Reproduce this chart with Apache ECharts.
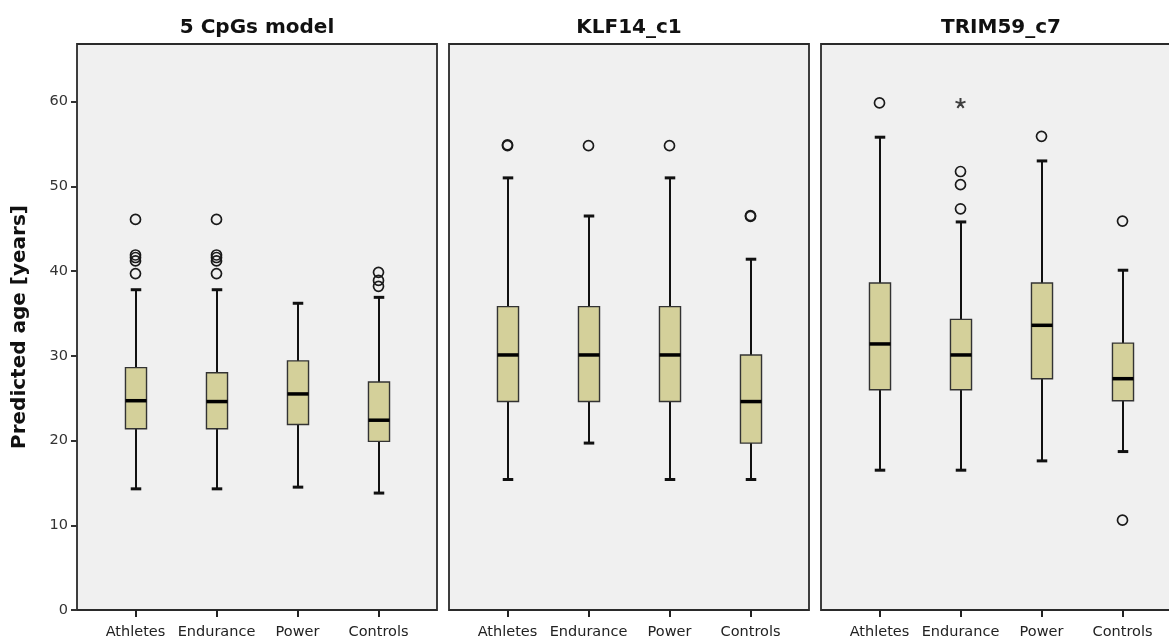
<!DOCTYPE html>
<html>
<head>
<meta charset="utf-8">
<script src="https://cdn.jsdelivr.net/npm/echarts@6/dist/echarts.min.js"></script>
<style>
html,body{margin:0;padding:0;background:#fff;}
#chart{width:1169px;height:639px;}
</style>
</head>
<body>
<div id="chart"></div>
<script>
// ---- data ----
const categories = ['Athletes', 'Endurance', 'Power', 'Controls'];
const panelTitles = ['5 CpGs model', 'KLF14_c1', 'TRIM59_c7'];
const yAxisTitle = 'Predicted age [years]';
const yTickValues = [0, 10, 20, 30, 40, 50, 60];
const yMax = 66.8;

// [lower whisker, Q1, median, Q3, upper whisker]
const cpgBoxes = [
  [14.3, 21.4, 24.7, 28.6, 37.8],
  [14.3, 21.4, 24.6, 28.0, 37.8],
  [14.5, 21.9, 25.5, 29.4, 36.2],
  [13.8, 19.9, 22.4, 26.9, 36.9]
];
const cpgOutliers = [
  [0, 46.1], [0, 41.9], [0, 41.6], [0, 41.2], [0, 39.7],
  [1, 46.1], [1, 41.9], [1, 41.6], [1, 41.2], [1, 39.7],
  [3, 39.85], [3, 38.9], [3, 38.2]
];

const klfBoxes = [
  [15.4, 24.6, 30.1, 35.8, 51.0],
  [19.7, 24.6, 30.1, 35.8, 46.5],
  [15.4, 24.6, 30.1, 35.8, 51.0],
  [15.4, 19.7, 24.6, 30.1, 41.4]
];
const klfOutliers = [
  [0, 54.8], [0, 54.9], [1, 54.8], [2, 54.8], [3, 46.45], [3, 46.55]
];

const trimBoxes = [
  [16.5, 26.0, 31.4, 38.6, 55.8],
  [16.5, 26.0, 30.1, 34.3, 45.8],
  [17.6, 27.3, 33.6, 38.6, 53.0],
  [18.7, 24.7, 27.3, 31.5, 40.1]
];
const trimOutliers = [
  [0, 59.85], [1, 51.75], [1, 50.2], [1, 47.35], [2, 55.9], [3, 45.9], [3, 10.6]
];
const trimExtremes = [
  [1, 59.85]
];

const panelBoxes = [cpgBoxes, klfBoxes, trimBoxes];
const panelOutliers = [cpgOutliers, klfOutliers, trimOutliers];
const panelExtremes = [[], [], trimExtremes];

// ---- layout / style ----
const panelLeft = [77, 449, 821];
const panelWidth = 360;
const innerPad = 18;
const gridTop = 44, gridHeight = 566;
const fontFam = 'DejaVu Sans';
const boxFill = '#d4d09a';
const panelBg = '#f0f0f0';

function renderBox(params, api) {
  const x = api.value(0);
  const lo = api.coord([x, api.value(1)]);
  const q1 = api.coord([x, api.value(2)]);
  const md = api.coord([x, api.value(3)]);
  const q3 = api.coord([x, api.value(4)]);
  const hi = api.coord([x, api.value(5)]);
  const band = api.size([1, 0])[0];
  const hw = band * 0.13;
  const cw = band * 0.065;
  const cx = Math.round(lo[0]);
  const wStyle = { stroke: '#111', lineWidth: 2 };
  const cStyle = { stroke: '#111', lineWidth: 3 };
  return {
    type: 'group',
    children: [
      { type: 'line', shape: { x1: cx, y1: hi[1], x2: cx, y2: q3[1] }, style: wStyle },
      { type: 'line', shape: { x1: cx, y1: q1[1], x2: cx, y2: lo[1] }, style: wStyle },
      { type: 'line', shape: { x1: cx - cw, y1: hi[1], x2: cx + cw, y2: hi[1] }, style: cStyle },
      { type: 'line', shape: { x1: cx - cw, y1: lo[1], x2: cx + cw, y2: lo[1] }, style: cStyle },
      { type: 'rect', shape: { x: cx - hw, y: q3[1], width: 2 * hw, height: q1[1] - q3[1] },
        style: { fill: boxFill, stroke: '#333', lineWidth: 1.4 } },
      { type: 'line', shape: { x1: cx - hw, y1: md[1], x2: cx + hw, y2: md[1] },
        style: { stroke: '#000', lineWidth: 3.5 } }
    ]
  };
}

const grids = [], xAxes = [], yAxes = [], series = [];
for (let i = 0; i < 3; i++) {
  grids.push({
    left: panelLeft[i], top: gridTop, width: panelWidth, height: gridHeight,
    outerBoundsMode: 'none', containLabel: false,
    show: true, backgroundColor: panelBg, borderColor: '#2a2a2a', borderWidth: 1.8
  });
  grids.push({
    left: panelLeft[i] + innerPad, top: gridTop, width: panelWidth - 2 * innerPad, height: gridHeight,
    outerBoundsMode: 'none', containLabel: false,
    show: false
  });
  xAxes.push({
    gridIndex: 2 * i, type: 'value', min: 0, max: 1, position: 'top',
    axisLine: { show: false }, axisTick: { show: false }, axisLabel: { show: false },
    splitLine: { show: false },
    name: panelTitles[i], nameLocation: 'middle', nameGap: 6,
    nameTextStyle: { fontFamily: fontFam, fontWeight: 'bold', fontSize: 20, color: '#111' }
  });
  xAxes.push({
    gridIndex: 2 * i + 1, type: 'category', data: categories,
    axisLine: { show: false },
    axisTick: { show: true, alignWithLabel: true, length: 7, lineStyle: { color: '#222', width: 2 } },
    axisLabel: { interval: 0, margin: 15, fontFamily: fontFam, fontSize: 14.5, color: '#222' },
    splitLine: { show: false }
  });
  yAxes.push({
    gridIndex: 2 * i, type: 'value', min: 0, max: yMax,
    show: i === 0,
    axisLine: { show: false },
    axisTick: { show: true, length: 6, customValues: yTickValues, lineStyle: { color: '#333', width: 2 } },
    axisLabel: { customValues: yTickValues, margin: 9, fontFamily: fontFam, fontSize: 14.5, color: '#333' },
    splitLine: { show: false },
    name: i === 0 ? yAxisTitle : '', nameLocation: 'middle', nameGap: 47,
    nameTextStyle: { fontFamily: fontFam, fontWeight: 'bold', fontSize: 20, color: '#111' }
  });
  yAxes.push({
    gridIndex: 2 * i + 1, type: 'value', min: 0, max: yMax, show: false,
    splitLine: { show: false }
  });

  series.push({
    type: 'custom',
    xAxisIndex: 2 * i + 1, yAxisIndex: 2 * i + 1,
    renderItem: renderBox,
    encode: { x: 0, y: [1, 2, 3, 4, 5] },
    data: panelBoxes[i].map((b, k) => [k].concat(b)),
    silent: true
  });
  series.push({
    type: 'scatter',
    xAxisIndex: 2 * i + 1, yAxisIndex: 2 * i + 1,
    symbol: 'circle', symbolSize: 10,
    itemStyle: { color: 'rgba(0,0,0,0)', borderColor: '#1a1a1a', borderWidth: 1.7, opacity: 1 },
    data: panelOutliers[i],
    silent: true
  });
  if (panelExtremes[i].length) {
    series.push({
      type: 'scatter',
      xAxisIndex: 2 * i + 1, yAxisIndex: 2 * i + 1,
      symbol: 'path://M5,0 L5,5 M5,5 L0.2,3.4 M5,5 L9.8,3.4 M5,5 L2,9.2 M5,5 L8,9.2',
      symbolSize: 10,
      itemStyle: { color: 'rgba(0,0,0,0)', borderColor: '#111', borderWidth: 2 },
      data: panelExtremes[i],
      silent: true
    });
  }
}

const chart = echarts.init(document.getElementById('chart'), null, { renderer: 'canvas' });
chart.setOption({
  backgroundColor: '#ffffff',
  animation: false,
  grid: grids,
  xAxis: xAxes,
  yAxis: yAxes,
  series: series
});
</script>
</body>
</html>
